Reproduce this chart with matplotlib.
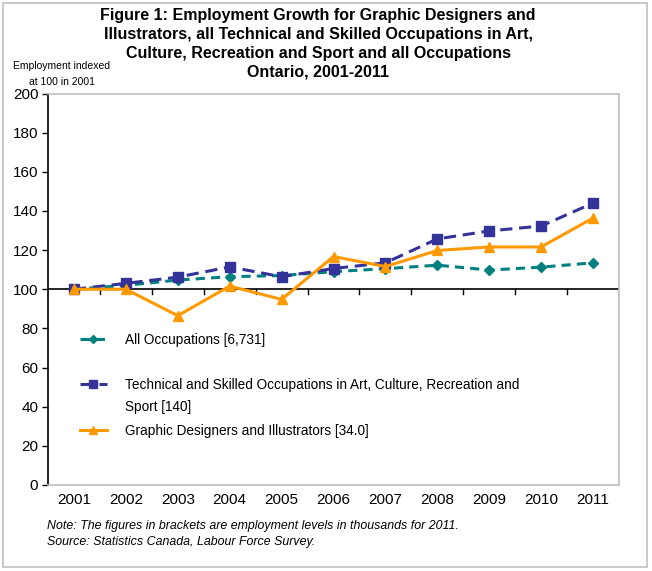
import matplotlib.pyplot as plt
from matplotlib.patches import Rectangle

plt.rcParams['font.family'] = ['Liberation Sans', 'DejaVu Sans']

# data
years = ["2001", "2002", "2003", "2004", "2005", "2006", "2007", "2008", "2009", "2010", "2011"]
all_occ = [100, 102, 104.7, 106.4, 107, 109, 110.5, 112.3, 109.8, 111.3, 113.5]
tech_skilled = [100, 103, 106.2, 111.4, 106.4, 110.6, 113.5, 125.7, 129.8, 132.3, 144]
graphic = [100, 100, 86.5, 101.6, 94.8, 116.7, 111.6, 119.8, 121.6, 121.6, 136.4]

lab_all = "All Occupations [6,731]"
lab_tech = "Technical and Skilled Occupations in Art, Culture, Recreation and\nSport [140]"
lab_graph = "Graphic Designers and Illustrators [34.0]"

fig = plt.figure(figsize=(6.52, 5.71), dpi=100)
fig.patches.append(Rectangle((3 / 652, 4 / 571), 644 / 652, 564 / 571, transform=fig.transFigure,
                             fill=False, edgecolor="#c0c0c0", linewidth=1.2))
ax = fig.add_axes([48 / 652, 86 / 571, 571 / 652, 391.5 / 571])

x = range(len(years))
l1, = ax.plot(x, all_occ, color="#008080", linestyle=(0, (3, 2)), linewidth=2.2,
              marker="D", markersize=5, zorder=3)
l2, = ax.plot(x, tech_skilled, color="#333399", linestyle=(0, (4, 2.2)), linewidth=2.2,
              marker="s", markersize=7, zorder=3)
l3, = ax.plot(x, graphic, color="#FF9900", linewidth=2.2,
              marker="^", markersize=7, zorder=4)

ax.set_xlim(-0.5, len(years) - 0.5)
ax.set_ylim(0, 200)
ax.set_yticks(range(0, 201, 20))
ax.tick_params(axis="y", direction="out", length=4, width=1, labelsize=11, pad=3)

# x axis crosses at 100, category ticks between years
ax.set_xticks([])
ax.axhline(100, color="black", linewidth=1.2, zorder=2)
for b in range(1, len(years) + 1):
    ax.plot([b - 0.5, b - 0.5], [100, 97.5], color="black", linewidth=1, zorder=2)
for i, yr in enumerate(years):
    ax.text(i, -4, yr, ha="center", va="top", fontsize=11)

for s in ["top", "right", "bottom"]:
    ax.spines[s].set_color("#c0c0c0")
    ax.spines[s].set_linewidth(1.2)
ax.spines["left"].set_linewidth(1.2)

# legend, one box per entry; the long label wraps under its text, handle stays on line 1
tech_lines = lab_tech.split("\n")
legkw = dict(frameon=False, fontsize=9.8, handlelength=2.0, handletextpad=1.3,
             markerscale=0.8, loc="center left", borderaxespad=0)
lg1 = ax.legend([l1], [lab_all], bbox_to_anchor=(0.046, 0.37), **legkw)
ax.add_artist(lg1)
lg2 = ax.legend([l2], [tech_lines[0]], bbox_to_anchor=(0.046, 0.2554), **legkw)
ax.add_artist(lg2)
ax.legend([l3], [lab_graph], bbox_to_anchor=(0.046, 0.138), **legkw)

fig.canvas.draw()
tb = lg2.get_texts()[0].get_window_extent().transformed(fig.transFigure.inverted())
fig.text(tb.x0, 1 - 407 / 571, tech_lines[1], ha="left", va="center", fontsize=9.8)

fig.text(318 / 652, 1 - 44 / 571,
         "Figure 1: Employment Growth for Graphic Designers and\n"
         "Illustrators, all Technical and Skilled Occupations in Art,\n"
         "Culture, Recreation and Sport and all Occupations\n"
         "Ontario, 2001-2011",
         ha="center", va="center", fontsize=11.5, fontweight="bold", linespacing=1.32)
fig.text(62 / 652, 1 - 74 / 571, "Employment indexed\nat 100 in 2001",
         ha="center", va="center", fontsize=7.5, linespacing=1.7)

fig.text(47 / 652, 1 - 526 / 571, "Note: The figures in brackets are employment levels in thousands for 2011.",
         ha="left", va="center", fontsize=8.9, style="italic")
fig.text(47 / 652, 1 - 542 / 571, "Source: Statistics Canada, Labour Force Survey.",
         ha="left", va="center", fontsize=8.9, style="italic")

fig.savefig("out.png", dpi=100)
